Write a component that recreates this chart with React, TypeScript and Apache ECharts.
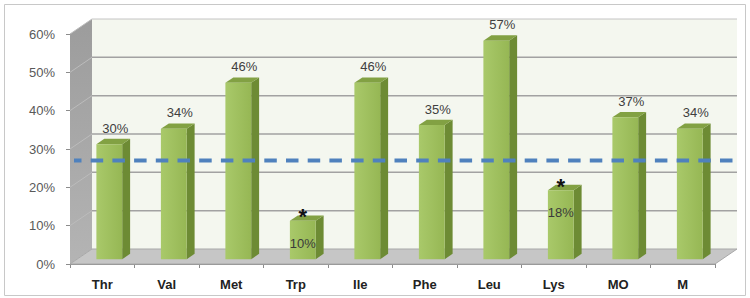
import { useEffect, useRef } from "react";
import * as echarts from "echarts";

// ---- data ----
const categories = ["Thr", "Val", "Met", "Trp", "Ile", "Phe", "Leu", "Lys", "MO", "M"];
const values = [0.30, 0.34, 0.46, 0.10, 0.46, 0.35, 0.57, 0.18, 0.37, 0.34];
const starred = ["Trp", "Lys"];
const yMin = 0;
const yMax = 0.6;
const yStep = 0.1;
const referenceLevel = 0.27;

// 3D look
const DX = 22;
const DY = -15;
const F0 = 0.32;
const F1 = 0.68;

const pct = (v: number) => Math.round(v * 100) + "%";

function wallsRender(params: any, api: any) {
  const cs = params.coordSys;
  const x = cs.x, y = cs.y, w = cs.width, h = cs.height;
  const children: any[] = [];
  // back wall
  children.push({
    type: "polygon",
    shape: { points: [[x + DX, y + DY], [x + w + DX, y + DY], [x + w + DX, y + h + DY], [x + DX, y + h + DY]] },
    style: { fill: "#f4f7ef", stroke: "none" },
  });
  // left wall
  children.push({
    type: "polygon",
    shape: { points: [[x, y], [x + DX, y + DY], [x + DX, y + h + DY], [x, y + h]] },
    style: {
      fill: new echarts.graphic.LinearGradient(0, 0, 0, 1, [
        { offset: 0, color: "#9c9c9c" },
        { offset: 1, color: "#b4b4b4" },
      ]),
      stroke: "none",
    },
  });
  // floor
  children.push({
    type: "polygon",
    shape: { points: [[x, y + h], [x + w, y + h], [x + w + DX, y + h + DY], [x + DX, y + h + DY]] },
    style: { fill: "#c6c6c6", stroke: "#a8a8a8", lineWidth: 1 },
  });
  // gridlines
  for (let v = yMin + yStep; v <= yMax + 1e-9; v += yStep) {
    const yy = api.coord([0, v])[1];
    const top = Math.abs(v - yMax) < 1e-9;
    children.push({
      type: "line",
      shape: { x1: x + DX, y1: yy + DY, x2: x + w + DX, y2: yy + DY },
      style: { stroke: top ? "#c4c4c4" : "#a2a2a2", lineWidth: top ? 1 : 1.5 },
    });
    children.push({
      type: "line",
      shape: { x1: x, y1: yy, x2: x + DX, y2: yy + DY },
      style: { stroke: "#bcbcbc", lineWidth: 1 },
    });
  }
  return { type: "group", children };
}

function barsRender(params: any, api: any) {
  const i = api.value(0);
  const v = api.value(1);
  const base = api.coord([i, 0]);
  const top = api.coord([i, v]);
  const band = api.size([1, 0])[0];
  const bw = band * 0.4;
  const ox = DX * F0, oy = DY * F0;
  const sx = DX * (F1 - F0), sy = DY * (F1 - F0);
  const xl = base[0] - bw / 2 + ox;
  const xr = xl + bw;
  const yb = base[1] + oy;
  const yt = top[1] + oy;
  const children: any[] = [
    {
      type: "polygon",
      shape: { points: [[xr, yt], [xr + sx, yt + sy], [xr + sx, yb + sy], [xr, yb]] },
      style: { fill: "#6d8b34" },
    },
    {
      type: "polygon",
      shape: { points: [[xl, yt], [xr, yt], [xr + sx, yt + sy], [xl + sx, yt + sy]] },
      style: { fill: "#82a143" },
    },
    {
      type: "rect",
      shape: { x: xl, y: yt, width: bw, height: yb - yt },
      style: {
        fill: new echarts.graphic.LinearGradient(0, 0, 1, 0, [
          { offset: 0, color: "#a9c96a" },
          { offset: 1, color: "#96b754" },
        ]),
      },
    },
  ];
  const cat = categories[i];
  if (starred.indexOf(cat) >= 0) {
    children.push({
      type: "text",
      style: {
        text: pct(v), x: xl + bw / 2, y: yt + 22.5,
        fill: "#3a3a3a", font: "13px 'Liberation Sans', Arial, sans-serif",
        align: "center", verticalAlign: "middle",
      },
    });
    children.push({
      type: "text",
      style: {
        text: "*", x: xl + bw / 2, y: yt - 4,
        fill: "#111111", font: "bold 22px 'Liberation Sans', Arial, sans-serif",
        align: "center", verticalAlign: "middle",
      },
    });
  } else {
    children.push({
      type: "text",
      style: {
        text: pct(v), x: base[0] + 13, y: yt - 16,
        fill: "#404040", font: "13px 'Liberation Sans', Arial, sans-serif",
        align: "center", verticalAlign: "middle",
      },
    });
  }
  return { type: "group", children };
}

function refLineRender(params: any, api: any) {
  const cs = params.coordSys;
  const yy = api.coord([0, api.value(1)])[1];
  return {
    type: "line",
    shape: { x1: cs.x + 4, y1: yy, x2: cs.x + cs.width + 18, y2: yy },
    style: { stroke: "#4f81bd", lineWidth: 4, lineDash: [12.5, 9.2], lineDashOffset: 5 },
  };
}

export default function App() {
  const ref = useRef<HTMLDivElement>(null);
  useEffect(() => {
    const chart = echarts.init(ref.current!, null, { renderer: "svg" });
    chart.setOption({
      animation: false,
      backgroundColor: "#ffffff",
      graphic: [
        {
          type: "rect",
          shape: { x: 4.5, y: 4.5, width: 741, height: 291 },
          style: { fill: "none", stroke: "#c8c8c8", lineWidth: 1 },
          z: -10,
        },
      ],
      grid: { left: 70, right: 35, top: 34, bottom: 34 },
      xAxis: {
        type: "category",
        data: categories,
        boundaryGap: true,
        axisLine: { show: true, lineStyle: { color: "#8c8c8c", width: 1 } },
        axisTick: { show: true, length: 4, lineStyle: { color: "#8c8c8c" } },
        axisLabel: {
          margin: 14,
          fontSize: 13,
          fontWeight: "bold",
          color: "#222222",
          fontFamily: "'Liberation Sans', Arial, sans-serif",
        },
      },
      yAxis: {
        type: "value",
        min: yMin,
        max: yMax,
        interval: yStep,
        axisLine: { show: true, lineStyle: { color: "#8c8c8c", width: 1 } },
        axisTick: { show: true, length: 4, lineStyle: { color: "#8c8c8c" } },
        splitLine: { show: false },
        axisLabel: {
          margin: 15,
          fontSize: 13,
          color: "#595959",
          fontFamily: "'Liberation Sans', Arial, sans-serif",
          formatter: (v: number) => pct(v),
        },
      },
      series: [
        { type: "custom", renderItem: wallsRender, data: [[0, 0]], encode: { x: 0, y: 1 }, z: 1, silent: true, clip: false },
        { type: "custom", renderItem: barsRender, data: values.map((v, i) => [i, v]), encode: { x: 0, y: 1 }, z: 2, silent: true, clip: false },
        { type: "custom", renderItem: refLineRender, data: [[0, referenceLevel]], encode: { x: 0, y: 1 }, z: 3, silent: true, clip: false },
      ],
    });
    return () => chart.dispose();
  }, []);
  return <div ref={ref} style={{ position: "fixed", left: 0, top: 0, width: 750, height: 298 }} />;
}
